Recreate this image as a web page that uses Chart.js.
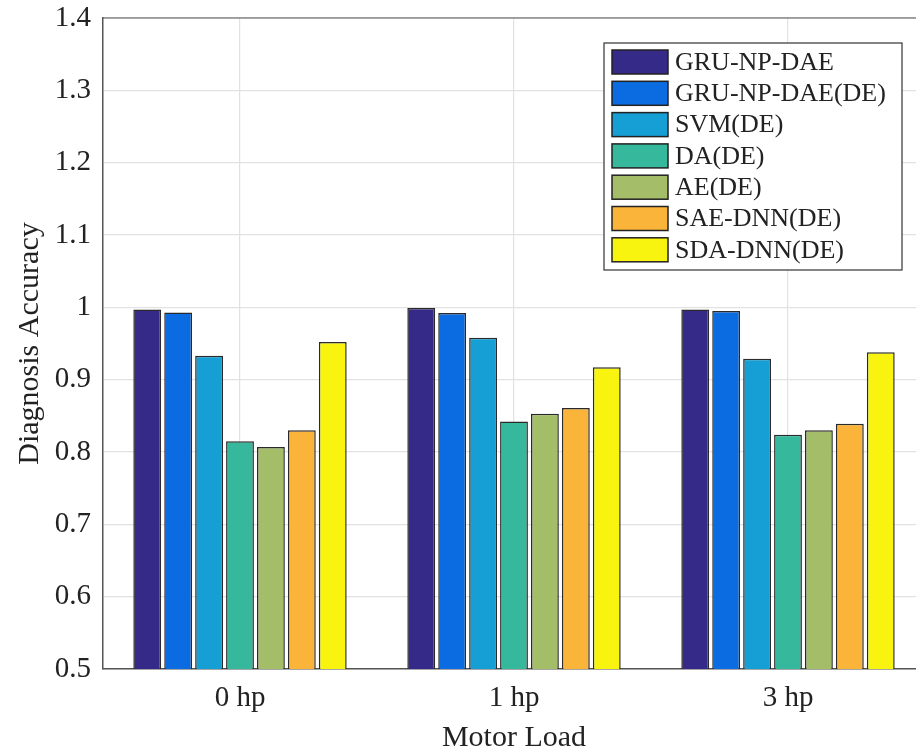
<!DOCTYPE html>
<html>
<head>
<meta charset="utf-8">
<script src="https://cdn.jsdelivr.net/npm/chart.js@4"></script>
<style>
  html, body { margin: 0; padding: 0; background: #fff; overflow: hidden; }
  #wrap { width: 935px; height: 753px; }
</style>
</head>
<body>
<div id="wrap"><canvas id="myChart"></canvas></div>
<script>
//data
var loads = ['0 hp', '1 hp', '3 hp'];
var methods = ['GRU-NP-DAE', 'GRU-NP-DAE(DE)', 'SVM(DE)', 'DA(DE)', 'AE(DE)', 'SAE-DNN(DE)', 'SDA-DNN(DE)'];
var gruNpDae = [0.997, 0.999, 0.997];
var gruNpDaeDe = [0.993, 0.992, 0.995];
var svmDe = [0.933, 0.958, 0.929];
var daDe = [0.815, 0.842, 0.824];
var aeDe = [0.807, 0.853, 0.830];
var saeDnnDe = [0.830, 0.861, 0.839];
var sdaDnnDe = [0.952, 0.917, 0.938];
var yTicks = [0.5, 0.6, 0.7, 0.8, 0.9, 1, 1.1, 1.2, 1.3, 1.4];

var colors = ['#352a87', '#0b6be0', '#169fd5', '#35b89b', '#a4bd68', '#fbb43a', '#f8f40f'];
var allValues = [gruNpDae, gruNpDaeDe, svmDe, daDe, aeDe, saeDnnDe, sdaDnnDe];

var serif = "'Liberation Serif', 'DejaVu Serif', serif";

var datasets = [];
for (var i = 0; i < methods.length; i++) {
  datasets.push({
    label: methods[i],
    data: allValues[i],
    backgroundColor: colors[i],
    borderColor: '#2a2a2a',
    borderWidth: 1.5,
    borderSkipped: 'bottom',
    barPercentage: 0.9,
    categoryPercentage: 0.79
  });
}

//box on top of the plot and legend in the upper right corner
var frameAndLegend = {
  id: 'frameAndLegend',
  afterDatasetsDraw: function (chart) {
    var ctx = chart.ctx;
    var a = chart.chartArea;
    ctx.save();
    ctx.strokeStyle = '#555';
    ctx.lineWidth = 1.2;
    ctx.beginPath();
    ctx.moveTo(a.left, a.top);
    ctx.lineTo(a.right, a.top);
    ctx.stroke();

    var bx = 604, by = 43, bw = 298, bh = 227;
    ctx.fillStyle = '#fff';
    ctx.fillRect(bx, by, bw, bh);
    ctx.strokeStyle = '#333';
    ctx.lineWidth = 1.2;
    ctx.strokeRect(bx, by, bw, bh);
    ctx.font = "26px " + serif;
    ctx.textBaseline = 'middle';
    chart.data.datasets.forEach(function (ds, k) {
      var cy = 62 + k * 31.3;
      ctx.fillStyle = ds.backgroundColor;
      ctx.fillRect(bx + 8, cy - 12, 56, 24);
      ctx.strokeStyle = '#222';
      ctx.lineWidth = 1.5;
      ctx.strokeRect(bx + 8, cy - 12, 56, 24);
      ctx.fillStyle = '#222';
      ctx.fillText(ds.label, bx + 71, cy + 1);
    });
    ctx.restore();
  }
};

var ctx = document.getElementById('myChart').getContext('2d');
var myChart = new Chart(ctx, {
  type: 'bar',
  data: {
    labels: loads,
    datasets: datasets
  },
  options: {
    responsive: true,
    maintainAspectRatio: false,
    animation: false,
    layout: {
      padding: { top: 18, right: 10, left: 0, bottom: 0 }
    },
    plugins: {
      legend: { display: false },
      tooltip: { enabled: false }
    },
    scales: {
      x: {
        offset: true,
        grid: {
          offset: false,
          color: '#e2e2e2',
          lineWidth: 1.2,
          drawTicks: false
        },
        border: { color: '#555', width: 1.5 },
        ticks: {
          color: '#222',
          padding: 12,
          font: { family: serif, size: 29 }
        },
        title: {
          display: true,
          text: 'Motor Load',
          color: '#222',
          padding: { top: 0, bottom: 0 },
          font: { family: serif, size: 30, lineHeight: 1 }
        },
        afterFit: function (scale) { scale.height = 84; }
      },
      y: {
        min: 0.5,
        max: 1.4,
        afterBuildTicks: function (scale) {
          scale.ticks = yTicks.map(function (v) { return { value: v }; });
        },
        grid: {
          color: '#e2e2e2',
          lineWidth: 1.2,
          drawTicks: false
        },
        border: { color: '#555', width: 1.5 },
        ticks: {
          color: '#222',
          padding: 12,
          font: { family: serif, size: 29 },
          callback: function (v) { return String(+Number(v).toFixed(1)); }
        },
        title: {
          display: true,
          text: 'Diagnosis Accuracy',
          color: '#222',
          padding: { top: 12, bottom: 0 },
          font: { family: serif, size: 30 }
        },
        afterFit: function (scale) {
          scale.width = 103;
          scale.paddingTop = 0;
          scale.paddingBottom = 0;
        }
      }
    }
  },
  plugins: [frameAndLegend]
});
</script>
</body>
</html>
